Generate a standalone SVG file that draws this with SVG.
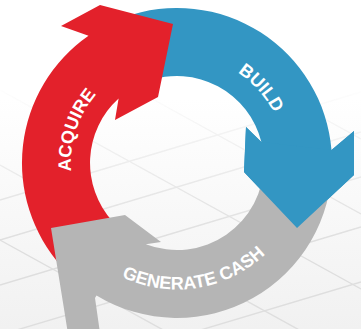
<svg xmlns="http://www.w3.org/2000/svg" xmlns:xlink="http://www.w3.org/1999/xlink" width="361" height="329" viewBox="0 0 361 329">
<style>
.red{fill:#E3212B}
.blue{fill:#3396C3}
.grey{fill:#B5B5B5}
.lbl{fill:#FFFFFF;font-family:"Liberation Sans",Arial,sans-serif;font-weight:bold;font-size:18px}
.grid{stroke:#DEDEDE;stroke-width:1.4;fill:none}
</style>
<defs>
<linearGradient id="fade" x1="0" y1="0" x2="0" y2="1">
<stop offset="0.25" stop-color="#fff" stop-opacity="0"/>
<stop offset="0.75" stop-color="#fff" stop-opacity="1"/>
</linearGradient>
<mask id="gridMask" maskUnits="userSpaceOnUse" x="0" y="0" width="361" height="329">
<rect width="361" height="329" fill="url(#fade)"/>
</mask>
<linearGradient id="floor" x1="0" y1="0" x2="0" y2="1">
<stop offset="0.3" stop-color="#FFFFFF"/>
<stop offset="1" stop-color="#F1F1F1"/>
</linearGradient>
<path id="pA" d="M87.1,219.2 A106,106 0 0 1 137.3,64.7"/>
<path id="pB" d="M173.8,54 A109,109 0 0 1 284.9,178.7"/>
<path id="pG" d="M93,257.6 A127,127 0 0 0 286.7,226.9"/>
</defs>
<rect width="361" height="329" fill="url(#floor)"/>
<g id="background-grid" class="grid" mask="url(#gridMask)">
<line x1="0" y1="200" x2="361" y2="92"/>
<line x1="0" y1="240" x2="361" y2="132"/>
<line x1="0" y1="285" x2="361" y2="177"/>
<line x1="0" y1="335" x2="361" y2="227"/>
<line x1="0" y1="390" x2="361" y2="282"/>
<line x1="0" y1="450" x2="361" y2="342"/>
<line x1="0" y1="-140" x2="361" y2="59"/>
<line x1="0" y1="-60" x2="361" y2="139"/>
<line x1="0" y1="15" x2="361" y2="214"/>
<line x1="0" y1="90" x2="361" y2="289"/>
<line x1="0" y1="165" x2="361" y2="364"/>
<line x1="0" y1="240" x2="361" y2="439"/>
</g>
<g id="build">
<path class="blue" d="M124,17.3 A155,155 0 0 1 331.5,150 L354,131 L354,175 L297,228 L244,172 L246,127 L261.4,142 A87,87 0 0 0 147.25,81.25 Z"/>
<text class="lbl"><textPath xlink:href="#pB" href="#pB" startOffset="50%" text-anchor="middle">BUILD</textPath></text>
</g>
<g id="acquire">
<path class="red" d="M61.8,266.7 A155,155 0 0 1 88.5,35.7 L61,26 L100,5 L173,24 L158,97 L115,120 L118.6,98.5 A87,87 0 0 0 112.4,221.2 Z"/>
<text class="lbl"><textPath xlink:href="#pA" href="#pA" startOffset="50%" text-anchor="middle">ACQUIRE</textPath></text>
</g>
<g id="generate-cash">
<path class="grey" d="M332,163 A155,155 0 0 1 96.5,295.4 L95,298 L101,340 L69,340 L51,228 L125,215 L161,242 L145.8,244.2 A87,87 0 0 0 264,163 Z"/>
<text class="lbl"><textPath xlink:href="#pG" href="#pG" startOffset="50%" text-anchor="middle">GENERATE CASH</textPath></text>
</g>
<g id="build-head">
<path class="blue" d="M331.5,150 L354,131 L354,175 L297,228 L244,172 L246,127 L261.4,142 Z"/>
</g>
</svg>
